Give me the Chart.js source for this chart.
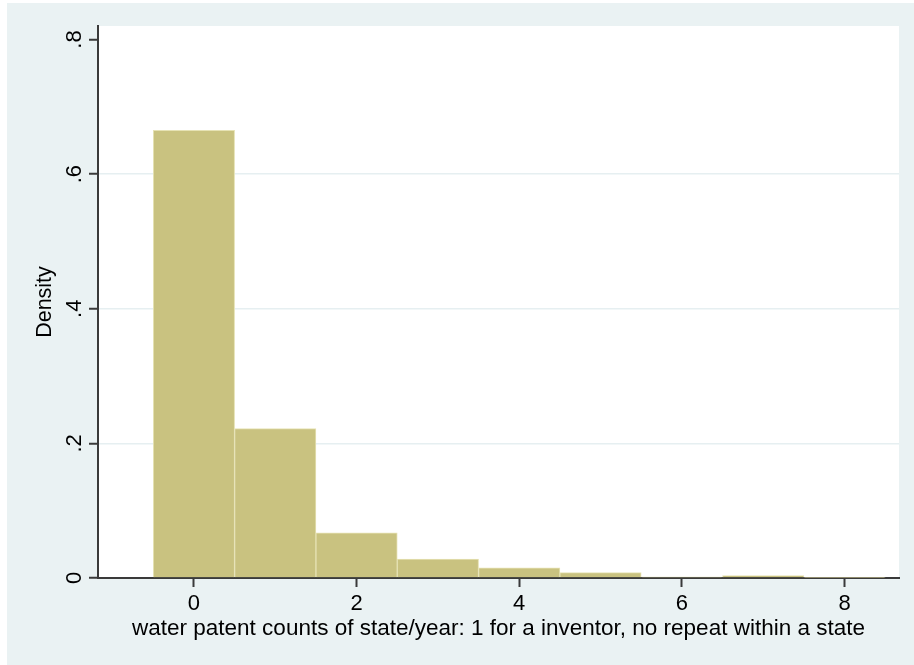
<!DOCTYPE html>
<html>
<head>
<meta charset="utf-8">
<script src="https://cdn.jsdelivr.net/npm/chart.js@4"></script>
<style>
  html, body { margin: 0; padding: 0; background: #ffffff; }
  #wrap { width: 914px; height: 665px; }
</style>
</head>
<body>
<div id="wrap"><canvas id="histChart" width="914" height="665"></canvas></div>
<script>
// --- Data ---
const binCenters = [0, 1, 2, 3, 4, 5, 6, 7, 8];
const density = [0.665, 0.222, 0.067, 0.028, 0.015, 0.008, 0.0015, 0.0035, 0.001];
const xTicks = [0, 2, 4, 6, 8];
const yTicks = [0, 0.2, 0.4, 0.6, 0.8];
const yTickLabels = ['0', '.2', '.4', '.6', '.8'];
const xTitle = 'water patent counts of state/year: 1 for a inventor, no repeat within a state';
const yTitle = 'Density';

const FONT = "'Liberation Sans', Arial, Helvetica, sans-serif";
const AXIS = '#3a3a3a';
const OUTER_BG = '#eaf2f3';

// Stata-like backgrounds: outer light region, white plot area
const backgroundPlugin = {
    id: 'stataBackground',
    beforeDraw(chart) {
        const { ctx, chartArea } = chart;
        ctx.save();
        ctx.fillStyle = '#ffffff';
        ctx.fillRect(0, 0, chart.width, chart.height);
        ctx.fillStyle = OUTER_BG;
        ctx.fillRect(7, 3, chart.width - 7, chart.height - 3);
        ctx.fillStyle = '#ffffff';
        ctx.fillRect(chartArea.left, chartArea.top, chartArea.right - chartArea.left, chartArea.bottom - chartArea.top);
        ctx.restore();
    }
};

// y tick labels are rotated in the original, draw them from the y scale
const yLabelPlugin = {
    id: 'rotatedYLabels',
    afterDraw(chart) {
        const { ctx } = chart;
        const y = chart.scales.y;
        ctx.save();
        ctx.fillStyle = '#000000';
        ctx.font = '22px ' + FONT;
        ctx.textAlign = 'center';
        ctx.textBaseline = 'alphabetic';
        yTicks.forEach((v, i) => {
            ctx.save();
            ctx.translate(y.right - 17, y.getPixelForValue(v));
            ctx.rotate(-Math.PI / 2);
            ctx.fillText(yTickLabels[i], 0, 0);
            ctx.restore();
        });
        ctx.restore();
    }
};

function initChart() {
    const ctx = document.getElementById('histChart').getContext('2d');
    return new Chart(ctx, {
        type: 'bar',
        data: {
            datasets: [{
                label: yTitle,
                data: binCenters.map((x, i) => ({ x: x, y: density[i] })),
                backgroundColor: '#c9c280',
                borderColor: '#e6e2b4',
                borderWidth: 1,
                borderSkipped: 'bottom',
                barPercentage: 1,
                categoryPercentage: 1
            }]
        },
        options: {
            responsive: false,
            animation: false,
            events: [],
            layout: { padding: { left: 0, top: 26, right: 15, bottom: 0 } },
            plugins: {
                legend: { display: false },
                tooltip: { enabled: false }
            },
            scales: {
                x: {
                    type: 'linear',
                    min: -1.18,
                    max: 8.67,
                    offset: false,
                    afterBuildTicks: (scale) => { scale.ticks = xTicks.map(v => ({ value: v })); },
                    afterFit: (scale) => { scale.height = 87; },
                    grid: {
                        offset: false,
                        drawOnChartArea: false,
                        drawTicks: true,
                        tickLength: 9,
                        tickColor: AXIS,
                        tickWidth: 2
                    },
                    border: { display: true, color: AXIS, width: 2 },
                    ticks: {
                        color: '#000000',
                        font: { family: FONT, size: 22 },
                        padding: 4,
                        maxRotation: 0,
                        callback: (v) => String(v)
                    },
                    title: {
                        display: true,
                        text: xTitle,
                        color: '#000000',
                        font: { family: FONT, size: 22.5 },
                        padding: { top: 0, bottom: 23 }
                    }
                },
                y: {
                    min: 0,
                    max: 0.82,
                    afterBuildTicks: (scale) => { scale.ticks = yTicks.map(v => ({ value: v })); },
                    afterFit: (scale) => { scale.width = 98; },
                    grid: {
                        color: (c) => (c.tick && c.tick.value > 0 && c.tick.value < 0.7) ? '#e6eff1' : 'rgba(0,0,0,0)',
                        lineWidth: 1.5,
                        drawTicks: true,
                        tickLength: 9,
                        tickColor: AXIS,
                        tickWidth: 2
                    },
                    border: { display: true, color: AXIS, width: 2 },
                    ticks: { display: false },
                    title: {
                        display: true,
                        text: yTitle,
                        color: '#000000',
                        font: { family: FONT, size: 21.5 },
                        padding: { top: 32, bottom: 0 }
                    }
                }
            }
        },
        plugins: [backgroundPlugin, yLabelPlugin]
    });
}

window.onload = () => {
    initChart();
};
</script>
</body>
</html>
